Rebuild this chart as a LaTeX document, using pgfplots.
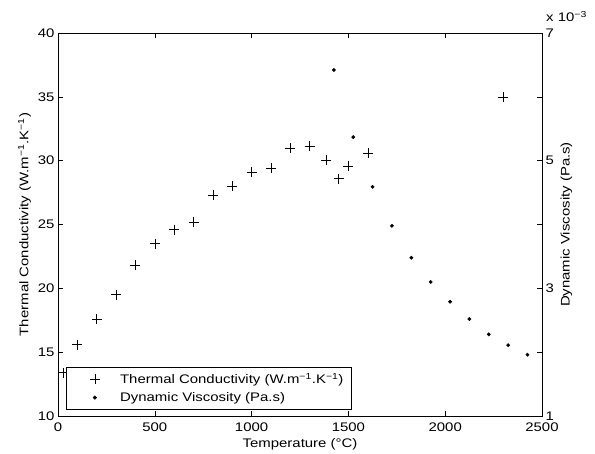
\documentclass[border=0pt]{standalone}
\usepackage{fontspec}
\setmainfont{Liberation Sans}[FakeStretch=1.2]
\usepackage{pgfplots}
\pgfplotsset{compat=1.18}
\begin{document}
\begin{tikzpicture}
\pgfplotsset{every axis/.append style={
  scale only axis, width=484bp, height=383bp,
  xmin=0, xmax=2500,
  tick align=inside, major tick length=5bp,
  tick style={black, line width=0.5pt},
  axis line style={line width=0.8pt},
  /pgf/number format/assume math mode=true,
  /pgf/number format/1000 sep={},
  tick label style={font=\fontsize{12.5}{14}\selectfont, inner ysep=0.5bp},
  label style={font=\fontsize{12.5}{14}\selectfont},
}}
\begin{axis}[name=ax,
  ymin=10, ymax=40, ytick={10,15,...,40},
  xtick={0,500,...,2500}, xtick pos=both, ytick pos=left,
  xticklabel style={yshift=-6bp},
  xlabel={Temperature (°C)},
  xlabel style={yshift=-2.5bp},
  ylabel={Thermal Conductivity (W.m\textsuperscript{−1}.K\textsuperscript{−1})},
  legend style={at={(0.017,0.018)}, anchor=south west, draw=black,
    line width=0.6pt, font=\fontsize{12.5}{14}\selectfont, row sep=3bp,
    inner xsep=6bp, inner ysep=4bp},
  legend cell align=left,
  legend image code/.code={
    \path (0bp,0bp) (45bp,0bp);
    \draw[#1] plot[only marks] coordinates {(22bp,0bp)};
  },
]
\addplot[only marks, mark=+, mark size=5bp, mark options={line width=0.5pt}] table {
x y
25 13.4
100 15.6
200 17.6
300 19.5
400 21.8
500 23.5
600 24.6
700 25.2
800 27.3
900 28.0
1000 29.1
1100 29.4
1200 31.0
1300 31.15
1385 30.05
1450 28.6
1500 29.6
1600 30.6
2300 35.0
};
\addlegendentry{Thermal Conductivity (W.m\textsuperscript{−1}.K\textsuperscript{−1})}
\addlegendimage{only marks, mark=*, mark size=1.7bp}
\addlegendentry{Dynamic Viscosity (Pa.s)}
\end{axis}
\begin{axis}[axis y line*=right, axis x line=none,
  ymin=1, ymax=7, ytick={1,...,7}, yticklabels={1,,3,,5,,7},
  ylabel={Dynamic Viscosity (Pa.s)},
]
\addplot[only marks, mark=*, mark size=1.7bp] table {
x y
1425 6.42
1525 5.37
1625 4.59
1725 3.98
1825 3.48
1925 3.10
2025 2.79
2125 2.52
2225 2.28
2325 2.11
2425 1.96
};
\end{axis}
\node[anchor=base west, font=\fontsize{12.5}{14}\selectfont, inner sep=0pt]
  at ([xshift=4bp, yshift=11bp]ax.north east) {x 10\textsuperscript{−3}};
\pgfresetboundingbox
\path (ax.south west) ++(-58bp,-38bp) rectangle ++(595bp,454bp);
\end{tikzpicture}
\end{document}
